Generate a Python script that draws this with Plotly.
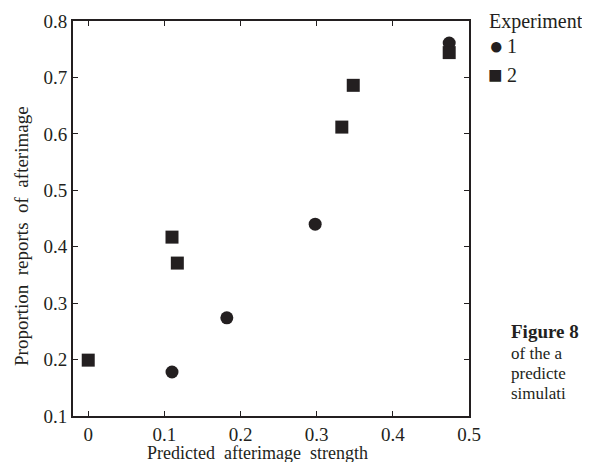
import plotly.graph_objects as go

exp1_x = [0.110, 0.182, 0.298, 0.474]
exp1_y = [0.178, 0.274, 0.440, 0.761]
exp2_x = [0.0, 0.110, 0.117, 0.333, 0.348, 0.474]
exp2_y = [0.199, 0.417, 0.371, 0.612, 0.686, 0.744]

x_ticks = [0, 0.1, 0.2, 0.3, 0.4, 0.5]
y_ticks = [0.1, 0.2, 0.3, 0.4, 0.5, 0.6, 0.7, 0.8]

FONT = "Liberation Serif, Times New Roman, serif"
INK = "#231f20"

# page has an 8px body margin; figure is sized to fit the 590x462 window
W, H = 582, 454
L, R, T, B = 65, 121, 13, 46
PW, PH = W - L - R, H - T - B


def px(xp):
    return (xp - 8 - L) / PW


def py(yp):
    return 1 - (yp - 8 - T) / PH


fig = go.Figure()
fig.add_trace(go.Scatter(x=exp1_x, y=exp1_y, mode="markers", name="1",
                         marker=dict(symbol="circle", size=13, color=INK)))
fig.add_trace(go.Scatter(x=exp2_x, y=exp2_y, mode="markers", name="2",
                         marker=dict(symbol="square", size=13, color=INK)))

axis_common = dict(showgrid=False, zeroline=False, showline=True, linecolor=INK,
                   linewidth=2, mirror="ticks", ticks="inside", ticklen=5,
                   tickcolor=INK, tickwidth=1, automargin=False,
                   tickfont=dict(family=FONT, size=19, color=INK))

fig.update_xaxes(range=[-0.02, 0.5], tickvals=x_ticks,
                 ticktext=["0", "0.1", "0.2", "0.3", "0.4", "0.5"],
                 **axis_common)
fig.update_yaxes(range=[0.1, 0.8], tickvals=y_ticks,
                 ticktext=["0.1", "0.2", "0.3", "0.4", "0.5", "0.6", "0.7", "0.8"],
                 **axis_common)

fig.update_layout(
    width=W, height=H,
    margin=dict(l=L, r=R, t=T, b=B, autoexpand=False),
    paper_bgcolor="white", plot_bgcolor="white",
    showlegend=False,
)

# axis titles
fig.add_annotation(text="Predicted\u00a0 afterimage\u00a0 strength", xref="paper", yref="paper",
                   x=px(257), y=py(453), xanchor="center", yanchor="middle",
                   showarrow=False, font=dict(family=FONT, size=18, color=INK))
fig.add_annotation(text="Proportion\u00a0 reports\u00a0 of\u00a0 afterimage",
                   xref="paper", yref="paper", textangle=-90,
                   x=px(21), y=py(236), xanchor="center", yanchor="middle",
                   showarrow=False, font=dict(family=FONT, size=19, color=INK))

# legend drawn as text
legend_items = [
    ("Experiment", 487, 21, 20),
    ("●", 487, 46, 24),
    ("1", 505, 46, 20),
    ("■", 486, 75, 24),
    ("2", 505, 75, 20),
]
for text, xp, yp, fs in legend_items:
    fig.add_annotation(text=text, xref="paper", yref="paper", x=px(xp), y=py(yp),
                       xanchor="left", yanchor="middle", showarrow=False,
                       font=dict(family=FONT, size=fs, color=INK))

caption = [
    ("<b>Figure 8</b>", 331, 19),
    ("of the a", 353, 17),
    ("predicte", 373, 17),
    ("simulati", 393, 17),
]
for text, ypix, fs in caption:
    fig.add_annotation(text=text, xref="paper", yref="paper",
                       x=px(509), y=py(ypix),
                       xanchor="left", yanchor="middle", showarrow=False,
                       font=dict(family=FONT, size=fs, color=INK))

fig.write_html("out.html")
